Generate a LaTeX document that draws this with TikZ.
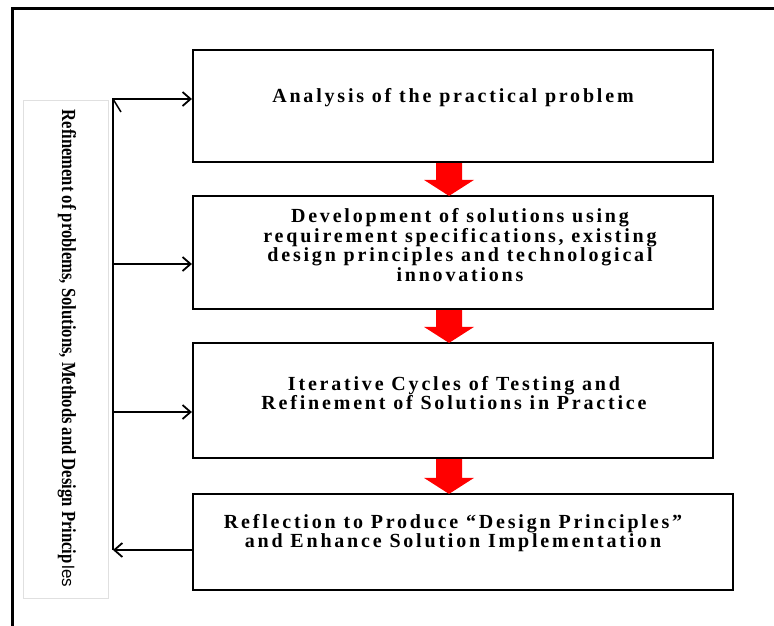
\documentclass[tikz,border=0pt]{standalone}
\usepackage{fontspec}
\setmainfont{Liberation Serif}
\newfontfamily\boxfont[LetterSpace=14]{Liberation Serif}
\newfontfamily\lblsans{Liberation Sans}
\usetikzlibrary{arrows.meta,calc}
\begin{document}
\begin{tikzpicture}[x=1pt,y=-1pt,
  stage/.style={draw=black, line width=2.2pt, rectangle, inner sep=0pt},
  stagetext/.style={font=\boxfont\bfseries\fontsize{20}{19.5}\selectfont, align=center, inner sep=0pt},
  flow/.style={fill=red},
  fbline/.style={draw=black, line width=1.8pt},
  fb/.style={fbline, -{Straight Barb[length=8pt,width=14pt,line width=1.8pt]}},
  frame/.style={draw=black, line width=3pt},
  lblframe/.style={draw=black!12, line width=0.8pt, inner sep=0pt}
]
\useasboundingbox (0,0) rectangle (774,625);

% outer frame (top and left sides visible)
\coordinate (fTL) at (12,8);
\coordinate (fTR) at (776,8);
\coordinate (fBL) at (12,627);
\draw[frame] (fTR) -- (fTL) -- (fBL);

% label box
\node[lblframe, minimum width=85pt, minimum height=498pt] (lblbox) at (65.5,349) {};
\node[rotate=-90, inner sep=0pt, font=\bfseries\fontsize{20}{20}\selectfont] (lbl) at (67,348.5)
  {\scalebox{0.83}[1]{Refinement of problems, Solutions, Methods and Design Princip}\hspace{2pt}{\lblsans\mdseries\fontsize{17}{17}\selectfont les}};

% stage boxes
\node[stage, minimum width=520pt, minimum height=112pt] (b1) at (453,106) {};
\node[stage, minimum width=520pt, minimum height=113pt] (b2) at (453,252.5) {};
\node[stage, minimum width=520pt, minimum height=115pt] (b3) at (453,400.5) {};
\node[stage, minimum width=540pt, minimum height=96pt] (b4) at (463,542) {};

% stage texts
\node[stagetext] (t1) at (453,98) {Analysis of the practical problem};
\node[stagetext] (t2) at (460,245) {Development of solutions using\\requirement specifications, existing\\design principles and technological\\innovations};
\node[stagetext] (t3) at (454,393) {Iterative Cycles of Testing and\\Refinement of Solutions in Practice};
\node[stagetext] (t4) at (453,533) {Reflection to Produce “Design Principles”\\and Enhance Solution Implementation};

% red flow arrows
\foreach \a/\b in {b1/b2,b2/b3,b3/b4}{
  \fill[flow] ($(\a.south)+(-17,0)$) -- ($(\a.south |- \b.north)+(-17,-15)$)
    -- ($(\a.south |- \b.north)+(-29,-15)$) -- ($(\a.south |- \b.north)+(-4,1)$)
    -- ($(\a.south |- \b.north)+(21,-15)$) -- ($(\a.south |- \b.north)+(9,-15)$)
    -- ($(\a.south)+(9,0)$) -- cycle;
}

% feedback loop
\coordinate (fbtop) at (113,99);
\coordinate (fbbot) at (113,550);
\coordinate (fb2) at (113,264);
\coordinate (fb3) at (113,412);
\coordinate (fbdiag) at (121,112);
\draw[fb] (fbbot) -- (fbtop) -- (fbtop -| b1.west);
\draw[fbline, line width=1.5pt] (fbtop) -- (fbdiag);
\draw[fb] (fb2) -- (fb2 -| b2.west);
\draw[fb] (fb3) -- (fb3 -| b3.west);
\draw[fb] (fbbot -| b4.west) -- (fbbot);
\end{tikzpicture}
\end{document}
